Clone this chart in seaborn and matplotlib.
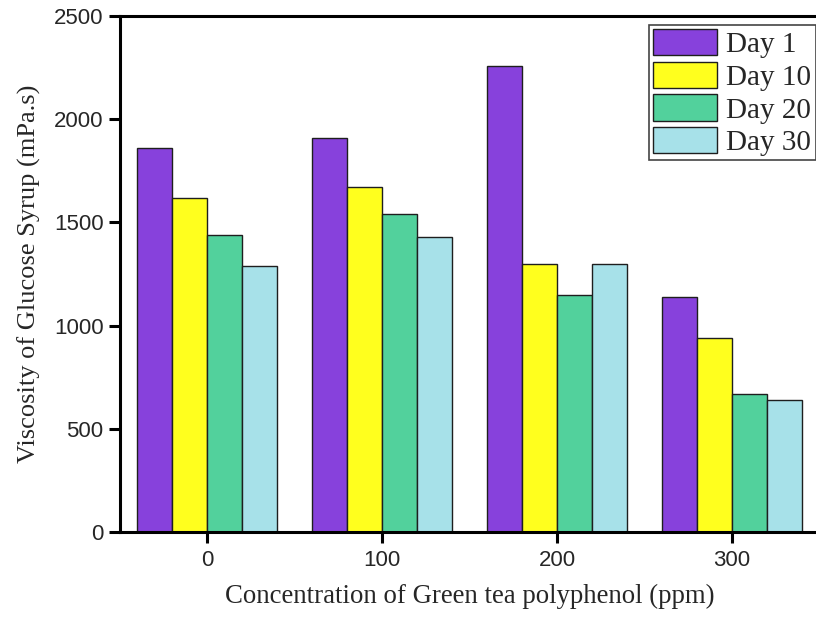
import matplotlib
matplotlib.use("Agg")
import matplotlib.pyplot as plt
import seaborn as sns
import pandas as pd

concentrations = ["0", "100", "200", "300"]
days = ["Day 1", "Day 10", "Day 20", "Day 30"]
day1 = [1860, 1910, 2260, 1140]
day10 = [1620, 1670, 1300, 940]
day20 = [1440, 1540, 1150, 670]
day30 = [1290, 1430, 1300, 640]
colors = ["#8741DC", "#FFFF1E", "#52D19C", "#A7E1E9"]

rows = []
for d, vals in zip(days, [day1, day10, day20, day30]):
    for c, v in zip(concentrations, vals):
        rows.append({"conc": c, "day": d, "visc": v})
df = pd.DataFrame(rows)

sns.set_style("ticks")
plt.rcParams["font.family"] = ["Liberation Sans", "DejaVu Sans"]

fig = plt.figure(figsize=(8.16, 6.17), dpi=100)
ax = fig.add_axes([119.5 / 816, 85 / 617, 700 / 816, 516 / 617])

sns.barplot(data=df, x="conc", y="visc", hue="day", order=concentrations,
            hue_order=days, palette=colors, saturation=1, width=0.8, gap=0,
            edgecolor="#1e1e1e", linewidth=1.0, ax=ax, legend=True)

ax.set_xlim(-0.5, 3.5)
ax.set_ylim(0, 2500)
ax.set_yticks([0, 500, 1000, 1500, 2000, 2500])
ax.tick_params(axis="both", direction="out", length=8, width=2.2, labelsize=16, color="black")
ax.tick_params(axis="x", pad=5)
for s in ["left", "bottom", "top"]:
    ax.spines[s].set_linewidth(2.2)
    ax.spines[s].set_color("black")
ax.spines["right"].set_visible(False)

serif = ["Liberation Serif", "DejaVu Serif"]
ax.set_xlabel("Concentration of Green tea polyphenol (ppm)", fontsize=19.3, family=serif, labelpad=9)
ax.set_ylabel("Viscosity of Glucose Syrup (mPa.s)", fontsize=19, family=serif, labelpad=9)

leg = ax.legend(loc="upper left", bbox_to_anchor=(649 / 816, 1 - 25 / 617),
                bbox_transform=fig.transFigure, frameon=True, fancybox=False,
                prop={"family": serif, "size": 21}, handlelength=2.17, handleheight=1.0,
                labelspacing=0.12, handletextpad=0.33, borderpad=0.15, borderaxespad=0)
leg.get_frame().set_edgecolor("#444444")
leg.get_frame().set_linewidth(1.2)
leg.get_frame().set_alpha(1)

fig.savefig("out.png", dpi=100)
